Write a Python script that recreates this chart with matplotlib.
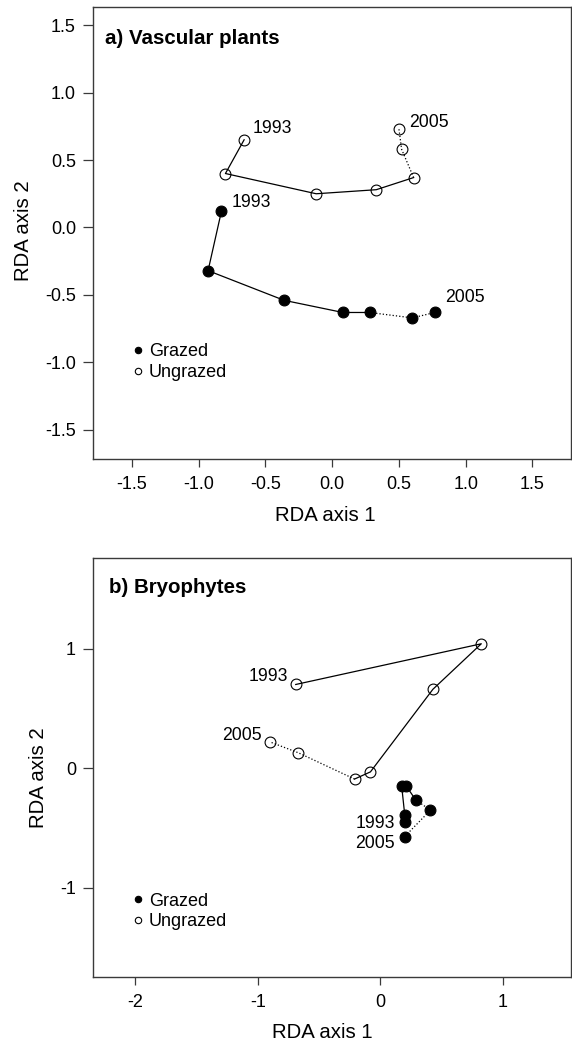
import matplotlib
matplotlib.use("Agg")
import matplotlib.pyplot as plt
from matplotlib.lines import Line2D

plt.rcParams['font.family'] = ['Liberation Sans', 'DejaVu Sans']
plt.rcParams['axes.unicode_minus'] = False

# ---------------- data ----------------
vasc_grazed_x = [-0.83, -0.93, -0.36, 0.08, 0.28, 0.60, 0.77]
vasc_grazed_y = [0.12, -0.32, -0.54, -0.63, -0.63, -0.67, -0.63]
vasc_ungrazed_x = [-0.66, -0.80, -0.12, 0.33, 0.61, 0.52, 0.50]
vasc_ungrazed_y = [0.65, 0.40, 0.25, 0.28, 0.37, 0.58, 0.73]

bryo_grazed_x = [0.20, 0.20, 0.175, 0.21, 0.29, 0.41, 0.20]
bryo_grazed_y = [-0.45, -0.39, -0.15, -0.145, -0.265, -0.35, -0.57]
bryo_ungrazed_x = [-0.69, 0.825, 0.43, -0.08, -0.21, -0.67, -0.90]
bryo_ungrazed_y = [0.70, 1.04, 0.66, -0.03, -0.09, 0.13, 0.22]

first_year = "1993"
last_year = "2005"

vasc_xticks = [-1.5, -1.0, -0.5, 0.0, 0.5, 1.0, 1.5]
vasc_xticklabels = ["-1.5", "-1.0", "-0.5", "0.0", "0.5", "1.0", "1.5"]
vasc_yticks = [-1.5, -1.0, -0.5, 0.0, 0.5, 1.0, 1.5]
vasc_yticklabels = ["-1.5", "-1.0", "-0.5", "0.0", "0.5", "1.0", "1.5"]
bryo_xticks = [-2, -1, 0, 1]
bryo_xticklabels = ["-2", "-1", "0", "1"]
bryo_yticks = [-1, 0, 1]
bryo_yticklabels = ["-1", "0", "1"]

legend_labels = ["Grazed", "Ungrazed"]
titles = ["a) Vascular plants", "b) Bryophytes"]
xlabel = "RDA axis 1"
ylabel = "RDA axis 2"

# ---------------- layout ----------------
W, H = 572, 1042
DPI = 100
fig = plt.figure(figsize=(W / DPI, H / DPI), dpi=DPI)

def px2pt(p):
    return p * 72.0 / DPI

def axes_rect(l, t, r, b):
    return [l / W, 1 - b / H, (r - l) / W, (b - t) / H]

ax1 = fig.add_axes(axes_rect(93.3, 7.3, 570.7, 459.0))
ax2 = fig.add_axes(axes_rect(93.3, 558.3, 570.7, 977.3))

FRAME = '#3a3a3a'
MS = 7.8
LW = 0.9

def draw_traj(ax, xs, ys, filled):
    ax.plot(xs[:5], ys[:5], '-', color='black', lw=LW, zorder=2)
    ax.plot(xs[4:], ys[4:], ':', color='black', lw=LW, zorder=2)
    if filled:
        ax.plot(xs, ys, 'o', ls='none', ms=MS, mfc='black', mec='black', mew=0.8, zorder=3)
    else:
        ax.plot(xs, ys, 'o', ls='none', ms=MS, mfc='none', mec='black', mew=0.8, zorder=3)

def label(ax, x, y, text, dx, dy_center, ha):
    em = 12.7 * DPI / 72.0
    dy = dy_center - 0.358 * em
    ax.annotate(text, xy=(x, y), xytext=(px2pt(dx), px2pt(dy)),
                textcoords='offset points', ha=ha, va='baseline', fontsize=12.7)

def style_axes(ax, xlim, ylim, xt, xtl, yt, ytl, ylab_x, ylab_y, xlab_x, xlab_base):
    ax.set_xlim(*xlim)
    ax.set_ylim(*ylim)
    ax.set_xticks(xt)
    ax.set_xticklabels(xtl)
    ax.set_yticks(yt)
    ax.set_yticklabels(ytl)
    for s in ax.spines.values():
        s.set_color(FRAME)
        s.set_linewidth(1.0)
    ax.tick_params(axis='x', direction='out', length=6, width=0.9, color=FRAME,
                   labelsize=13, pad=6)
    ax.tick_params(axis='y', direction='out', length=7.5, width=0.9, color=FRAME,
                   labelsize=13, pad=5)
    ax.set_xlabel(xlabel, fontsize=14.7)
    ax.set_ylabel(ylabel, fontsize=14.7)
    pos = ax.get_position()
    l, b, w, h = pos.x0 * W, (1 - pos.y1) * H, pos.width * W, pos.height * H
    ax.xaxis.set_label_coords((xlab_x - l) / w, (b + h - xlab_base) / h)
    ax.xaxis.label.set_verticalalignment('baseline')
    ax.yaxis.set_label_coords((ylab_x - l) / w, (b + h - ylab_y) / h)
    ax.yaxis.label.set_verticalalignment('center')
    ax.yaxis.label.set_horizontalalignment('center')

# ---- panel a ----
draw_traj(ax1, vasc_ungrazed_x, vasc_ungrazed_y, False)
draw_traj(ax1, vasc_grazed_x, vasc_grazed_y, True)
label(ax1, vasc_ungrazed_x[0], vasc_ungrazed_y[0], first_year, 8.7, 13.3, 'left')
label(ax1, vasc_ungrazed_x[-1], vasc_ungrazed_y[-1], last_year, 9.7, 8.3, 'left')
label(ax1, vasc_grazed_x[0], vasc_grazed_y[0], first_year, 10.3, 11.0, 'left')
label(ax1, vasc_grazed_x[-1], vasc_grazed_y[-1], last_year, 10.0, 17.0, 'left')
style_axes(ax1, (-1.79, 1.787), (-1.716, 1.632), vasc_xticks, vasc_xticklabels,
           vasc_yticks, vasc_yticklabels, 24, 231, 325, 521)

# ---- panel b ----
draw_traj(ax2, bryo_ungrazed_x, bryo_ungrazed_y, False)
draw_traj(ax2, bryo_grazed_x, bryo_grazed_y, True)
label(ax2, bryo_ungrazed_x[0], bryo_ungrazed_y[0], first_year, -7.7, 9.7, 'right')
label(ax2, bryo_ungrazed_x[-1], bryo_ungrazed_y[-1], last_year, -8.6, 8.3, 'right')
label(ax2, bryo_grazed_x[0], bryo_grazed_y[0], first_year, -9.7, 0.0, 'right')
label(ax2, bryo_grazed_x[-1], bryo_grazed_y[-1], last_year, -10.0, -5.0, 'right')
style_axes(ax2, (-2.343, 1.555), (-1.746, 1.754), bryo_xticks, bryo_xticklabels,
           bryo_yticks, bryo_yticklabels, 38, 778, 322, 1038)

# ---- titles ----
fig.text(105 / W, 1 - 44 / H, titles[0], fontsize=14.8, fontweight='bold',
         ha='left', va='baseline')
fig.text(109.3 / W, 1 - 593.3 / H, titles[1], fontsize=14.8, fontweight='bold',
         ha='left', va='baseline')

# ---- legends ----
def add_legend(ax, mid_y_px):
    handles = [Line2D([], [], marker='o', ls='none', ms=4.6, mfc='black', mec='black', mew=0.8),
               Line2D([], [], marker='o', ls='none', ms=4.6, mfc='none', mec='black', mew=0.8)]
    pos = ax.get_position()
    l, b, w, h = pos.x0 * W, (1 - pos.y1) * H, pos.width * W, pos.height * H
    ax.legend(handles, legend_labels, loc='center left',
              bbox_to_anchor=((132.6 - l) / w, (b + h - mid_y_px) / h),
              frameon=False, fontsize=13, handlelength=0.6, handletextpad=0.3,
              borderpad=0, borderaxespad=0, labelspacing=0.22)

add_legend(ax1, 362)
add_legend(ax2, 911.5)

fig.savefig("out.png", dpi=DPI)
